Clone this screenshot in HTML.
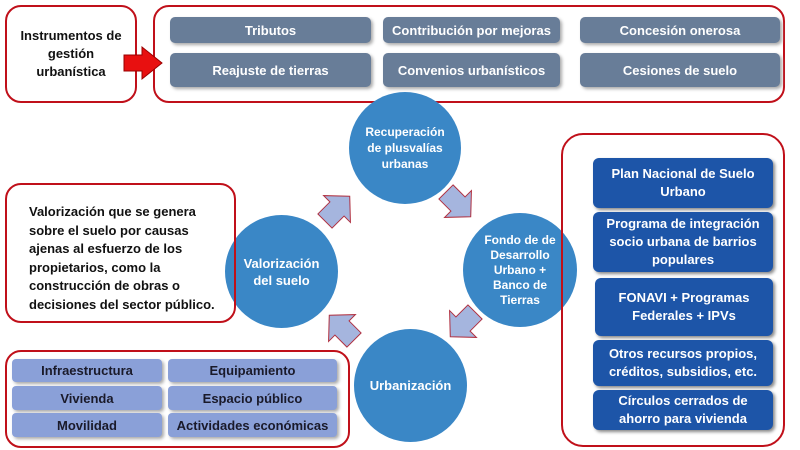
<!DOCTYPE html>
<html><head><meta charset="utf-8"><style>
body{margin:0;width:800px;height:450px;background:#fff;position:relative;overflow:hidden;font-family:"Liberation Sans",sans-serif;font-weight:bold}
.a{position:absolute;box-sizing:border-box}
.red{border:2.5px solid #c0101a;border-radius:16px}
.g{background:#687d98;color:#fff;border-radius:5px;font-size:13px;display:flex;align-items:center;justify-content:center;box-shadow:2px 2px 3px #aaa}
.lb{background:#8aa0d8;color:#1a1a2a;border-radius:4px;font-size:13px;display:flex;align-items:center;justify-content:center;box-shadow:2px 2px 3px #aaa}
.db{background:#1d55a8;color:#fff;border-radius:6px;font-size:13px;display:flex;align-items:center;justify-content:center;text-align:center;line-height:18px;box-shadow:2px 2px 3px #888}
.c{background:#3a87c6;color:#fff;border-radius:50%;display:flex;align-items:center;justify-content:center;text-align:center;font-size:12px;line-height:16px}
</style></head><body>
<div class="a red" style="left:5px;top:5px;width:132px;height:98px;display:flex;align-items:center;justify-content:center;text-align:center;font-size:13px;line-height:18px;color:#111">Instrumentos de<br>gestión<br>urbanística</div>
<div class="a red" style="left:153px;top:5px;width:632px;height:98px"></div>
<div class="a g" style="left:170px;top:17px;width:201px;height:26px">Tributos</div>
<div class="a g" style="left:383px;top:17px;width:177px;height:26px">Contribución por mejoras</div>
<div class="a g" style="left:580px;top:17px;width:200px;height:26px">Concesión onerosa</div>
<div class="a g" style="left:170px;top:53px;width:201px;height:34px">Reajuste de tierras</div>
<div class="a g" style="left:383px;top:53px;width:177px;height:34px">Convenios urbanísticos</div>
<div class="a g" style="left:580px;top:53px;width:200px;height:34px">Cesiones de suelo</div>
<svg class="a" style="left:0;top:0" width="800" height="450">
<path d="M124,55 L142,55 L142,47 L162,63 L142,79 L142,71 L124,71 Z" fill="#e81010" stroke="#900" stroke-width="1"/>
<g fill="#a5b5de" stroke="#b03040" stroke-width="1">
<path transform="translate(337,209) rotate(-45)" d="M-17,-10 L0,-10 L0,-19 L18,0 L0,19 L0,10 L-17,10 Z"/>
<path transform="translate(458,204) rotate(45)" d="M-17,-10 L0,-10 L0,-19 L18,0 L0,19 L0,10 L-17,10 Z"/>
<path transform="translate(463,324) rotate(135)" d="M-17,-10 L0,-10 L0,-19 L18,0 L0,19 L0,10 L-17,10 Z"/>
<path transform="translate(342,328) rotate(-135)" d="M-17,-10 L0,-10 L0,-19 L18,0 L0,19 L0,10 L-17,10 Z"/>
</g></svg>
<div class="a c" style="left:349px;top:92px;width:112px;height:112px">Recuperación<br>de plusvalías<br>urbanas</div>
<div class="a c" style="left:225px;top:215px;width:113px;height:113px;font-size:13px;line-height:17px">Valorización<br>del suelo</div>
<div class="a c" style="left:463px;top:213px;width:114px;height:114px;line-height:15px">Fondo de de<br>Desarrollo<br>Urbano +<br>Banco de<br>Tierras</div>
<div class="a c" style="left:354px;top:329px;width:113px;height:113px;font-size:13px">Urbanización</div>
<div class="a red" style="left:5px;top:183px;width:231px;height:140px;padding:18px 0 0 22px;font-size:13px;line-height:18.5px;color:#111">Valorización que se genera<br>sobre el suelo por causas<br>ajenas al esfuerzo de los<br>propietarios, como la<br>construcción de obras o<br>decisiones del sector público.</div>
<div class="a red" style="left:5px;top:350px;width:345px;height:98px"></div>
<div class="a lb" style="left:12px;top:359px;width:150px;height:23px">Infraestructura</div>
<div class="a lb" style="left:168px;top:359px;width:169px;height:23px">Equipamiento</div>
<div class="a lb" style="left:12px;top:386px;width:150px;height:24px">Vivienda</div>
<div class="a lb" style="left:168px;top:386px;width:169px;height:24px">Espacio público</div>
<div class="a lb" style="left:12px;top:413px;width:150px;height:24px">Movilidad</div>
<div class="a lb" style="left:168px;top:413px;width:169px;height:24px">Actividades económicas</div>
<div class="a red" style="left:561px;top:133px;width:224px;height:314px;border-radius:22px"></div>
<div class="a db" style="left:593px;top:158px;width:180px;height:50px">Plan Nacional de Suelo<br>Urbano</div>
<div class="a db" style="left:593px;top:212px;width:180px;height:60px">Programa de integración<br>socio urbana de barrios<br>populares</div>
<div class="a db" style="left:595px;top:278px;width:178px;height:58px">FONAVI + Programas<br>Federales + IPVs</div>
<div class="a db" style="left:593px;top:340px;width:180px;height:46px">Otros recursos propios,<br>créditos, subsidios, etc.</div>
<div class="a db" style="left:593px;top:390px;width:180px;height:40px">Círculos cerrados de<br>ahorro para vivienda</div>
</body></html>
